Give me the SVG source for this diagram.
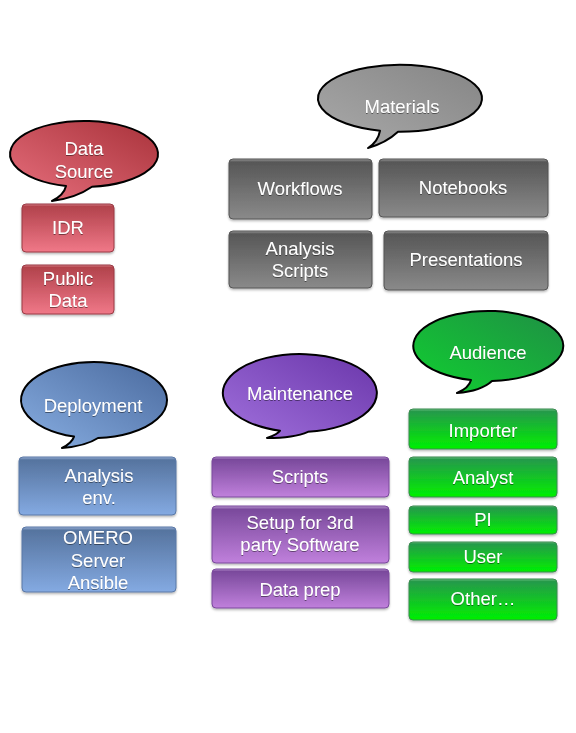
<svg xmlns="http://www.w3.org/2000/svg" width="576" height="733" viewBox="0 0 576 733">
<defs>
<linearGradient id="bRed" x1="1" y1="0" x2="0" y2="1"><stop offset="0" stop-color="#a8323a"/><stop offset="1" stop-color="#e8707e"/></linearGradient>
<linearGradient id="bGray" x1="1" y1="0" x2="0" y2="1"><stop offset="0" stop-color="#858585"/><stop offset="1" stop-color="#aaaaaa"/></linearGradient>
<linearGradient id="bBlue" x1="1" y1="0" x2="0" y2="1"><stop offset="0" stop-color="#4a6a9e"/><stop offset="1" stop-color="#88aee2"/></linearGradient>
<linearGradient id="bPurple" x1="1" y1="0" x2="0" y2="1"><stop offset="0" stop-color="#6a36aa"/><stop offset="1" stop-color="#a070dc"/></linearGradient>
<linearGradient id="bGreen" x1="1" y1="0" x2="0" y2="1"><stop offset="0" stop-color="#1f8f45"/><stop offset="1" stop-color="#10d030"/></linearGradient>
<linearGradient id="rRed" x1="0" y1="0" x2="0" y2="1"><stop offset="0" stop-color="#d8828a"/><stop offset="0.05" stop-color="#b2434c"/><stop offset="1" stop-color="#f07888"/></linearGradient>
<linearGradient id="rGray" x1="0" y1="0" x2="0" y2="1"><stop offset="0" stop-color="#9a9a9a"/><stop offset="0.05" stop-color="#575757"/><stop offset="1" stop-color="#8a8a8a"/></linearGradient>
<linearGradient id="rBlue" x1="0" y1="0" x2="0" y2="1"><stop offset="0" stop-color="#9ab2d8"/><stop offset="0.05" stop-color="#56749f"/><stop offset="1" stop-color="#84aae2"/></linearGradient>
<linearGradient id="rPurple" x1="0" y1="0" x2="0" y2="1"><stop offset="0" stop-color="#b894d0"/><stop offset="0.06" stop-color="#7a4a9c"/><stop offset="1" stop-color="#c080dc"/></linearGradient>
<linearGradient id="rGreen" x1="0" y1="0" x2="0" y2="1"><stop offset="0" stop-color="#6ac080"/><stop offset="0.06" stop-color="#259a4a"/><stop offset="1" stop-color="#00f000"/></linearGradient>
<filter id="ts" x="-10%" y="-20%" width="120%" height="150%"><feDropShadow dx="0" dy="1" stdDeviation="0.6" flood-color="#000" flood-opacity="0.45"/></filter>
<filter id="bs" x="-5%" y="-5%" width="110%" height="120%"><feDropShadow dx="0" dy="1.5" stdDeviation="1" flood-color="#000" flood-opacity="0.3"/></filter>
</defs>
<style>
.bub{stroke:#000;stroke-width:2;stroke-linejoin:round}
.box{stroke-width:1;filter:url(#bs)}
.red{fill:url(#rRed);stroke:#9a3a44}
.gray{fill:url(#rGray);stroke:#555}
.blue{fill:url(#rBlue);stroke:#5a78a6}
.purple{fill:url(#rPurple);stroke:#7a4a9c}
.green{fill:url(#rGreen);stroke:#3a8a50}
text{font-family:"Liberation Sans",Arial,sans-serif;font-size:18.5px;fill:#fff;text-anchor:middle;filter:url(#ts)}
</style>
<rect width="576" height="733" fill="#fff"/>

<g id="data-source">
<path class="bub" fill="url(#bRed)" d="M92,186.8 A74 33 0 1 0 66,186 Q64,195 52,201 Q76,198 92,186.8 Z"/>
<text x="84" y="155">Data</text>
<text x="84" y="178">Source</text>
</g>
<g id="idr"><rect class="box red" x="22" y="204" width="92" height="48" rx="4"/><text x="68" y="234">IDR</text></g>
<g id="public-data"><rect class="box red" x="22" y="265" width="92" height="49" rx="4"/><text x="68" y="285">Public</text><text x="68" y="307">Data</text></g>

<g id="materials">
<path class="bub" fill="url(#bGray)" d="M398,131.8 A82 33.5 0 1 0 380,130.8 Q378,142 368,148 Q386,143 398,131.8 Z"/>
<text x="402" y="113">Materials</text>
</g>
<g id="workflows"><rect class="box gray" x="229" y="159" width="143" height="60" rx="4"/><text x="300" y="195">Workflows</text></g>
<g id="notebooks"><rect class="box gray" x="379" y="159" width="169" height="58" rx="4"/><text x="463" y="194">Notebooks</text></g>
<g id="analysis-scripts"><rect class="box gray" x="229" y="231" width="143" height="57" rx="4"/><text x="300" y="255">Analysis</text><text x="300" y="277">Scripts</text></g>
<g id="presentations"><rect class="box gray" x="384" y="231" width="164" height="59" rx="4"/><text x="466" y="266">Presentations</text></g>

<g id="deployment">
<path class="bub" fill="url(#bBlue)" d="M98,438 A73 38 0 1 0 74,436.6 Q72,443 62,448 Q86,446 98,438 Z"/>
<text x="93" y="412">Deployment</text>
</g>
<g id="analysis-env"><rect class="box blue" x="19" y="457" width="157" height="58" rx="4"/><text x="99" y="482">Analysis</text><text x="99" y="504">env.</text></g>
<g id="omero-server-ansible"><rect class="box blue" x="22" y="527" width="154" height="65" rx="4"/><text x="98" y="544">OMERO</text><text x="98" y="567">Server</text><text x="98" y="589">Ansible</text></g>

<g id="maintenance">
<path class="bub" fill="url(#bPurple)" d="M308,431.8 A77 39 0 1 0 280,430.7 Q278,434 267,438 Q294,438 308,431.8 Z"/>
<text x="300" y="400">Maintenance</text>
</g>
<g id="scripts"><rect class="box purple" x="212" y="457" width="177" height="40" rx="4"/><text x="300" y="483">Scripts</text></g>
<g id="setup"><rect class="box purple" x="212" y="506" width="177" height="57" rx="4"/><text x="300" y="529">Setup for 3rd</text><text x="300" y="551">party Software</text></g>
<g id="data-prep"><rect class="box purple" x="212" y="569" width="177" height="39" rx="4"/><text x="300" y="596">Data prep</text></g>

<g id="audience">
<path class="bub" fill="url(#bGreen)" d="M492,380.9 A75 35 0 1 0 471,380 Q469,388 457,393 Q481,391 492,380.9 Z"/>
<text x="488" y="359">Audience</text>
</g>
<g id="importer"><rect class="box green" x="409" y="409" width="148" height="40" rx="4"/><text x="483" y="437">Importer</text></g>
<g id="analyst"><rect class="box green" x="409" y="457" width="148" height="40" rx="4"/><text x="483" y="484">Analyst</text></g>
<g id="pi"><rect class="box green" x="409" y="506" width="148" height="28" rx="4"/><text x="483" y="526">PI</text></g>
<g id="user"><rect class="box green" x="409" y="542" width="148" height="30" rx="4"/><text x="483" y="563">User</text></g>
<g id="other"><rect class="box green" x="409" y="579" width="148" height="41" rx="4"/><text x="483" y="605">Other…</text></g>

<g id="connectors"></g>
</svg>
